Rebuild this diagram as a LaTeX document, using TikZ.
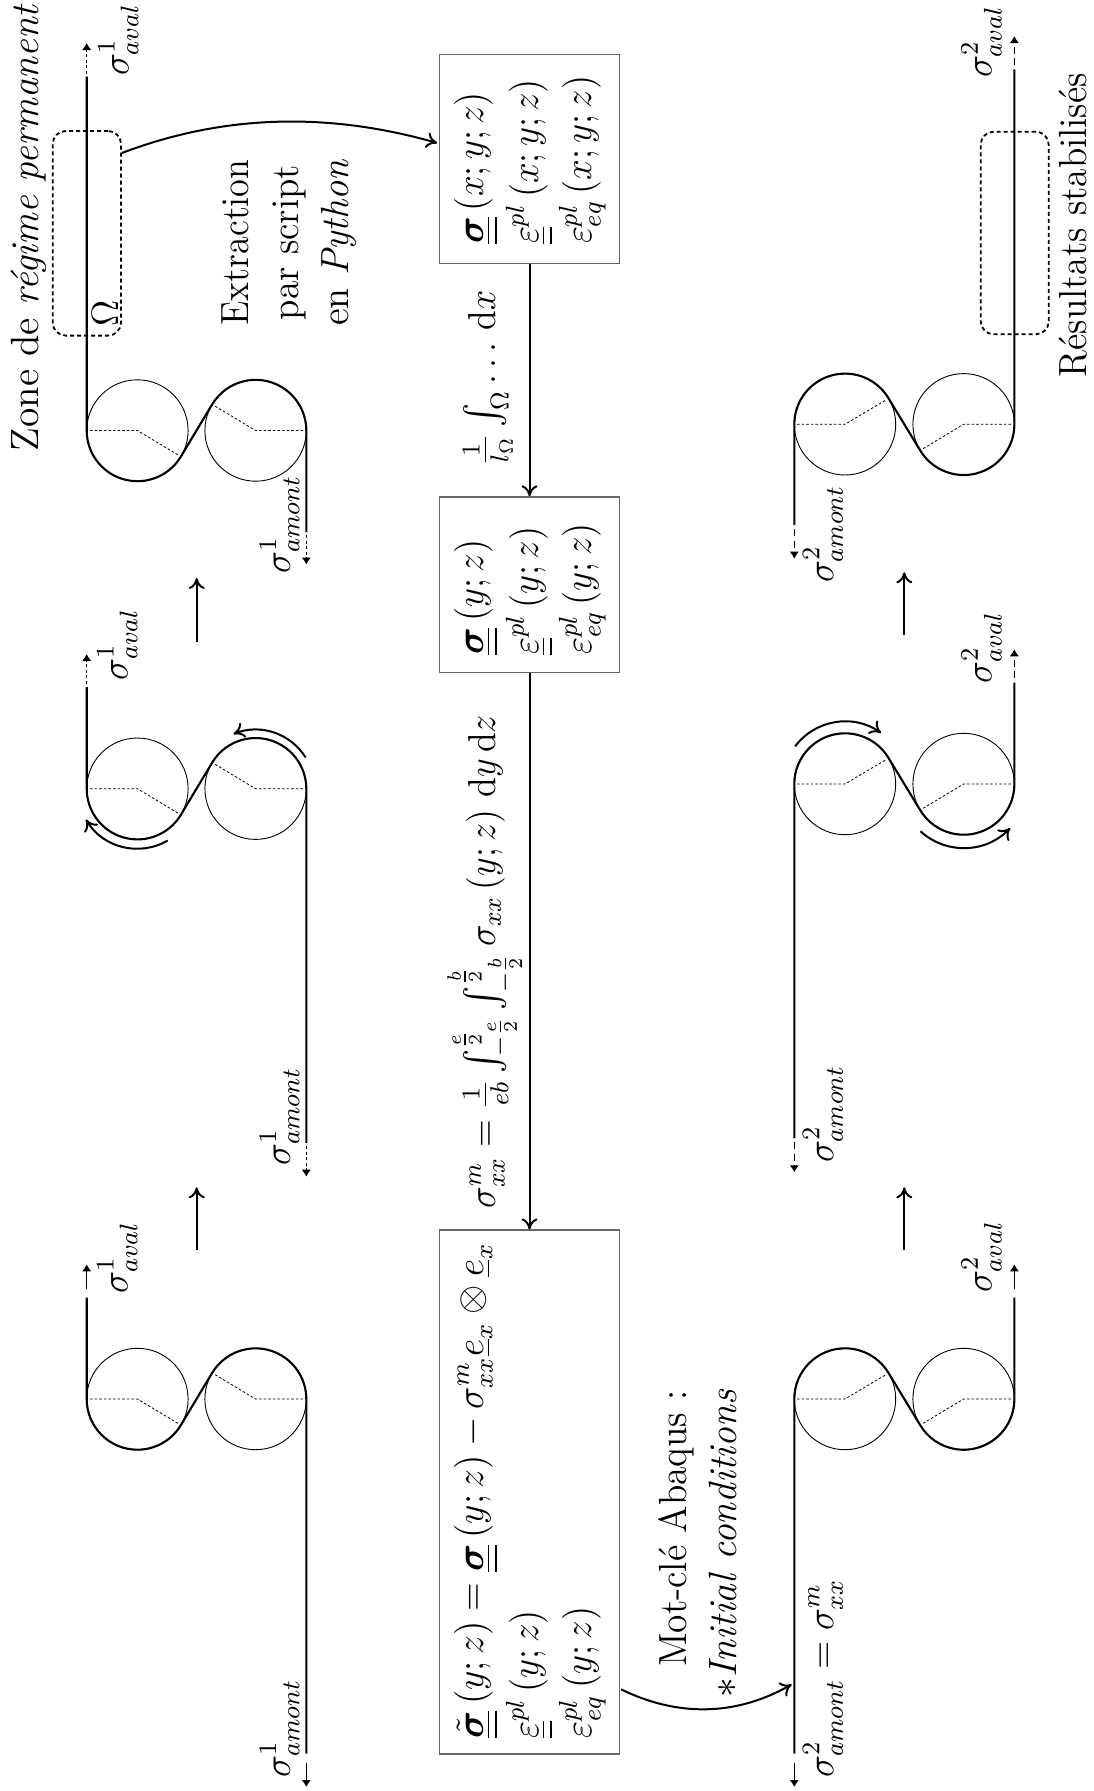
\documentclass[tikz,border=0pt,12pt]{standalone}
\usepackage{amsmath,amssymb,graphicx}
\usetikzlibrary{arrows.meta}
\tikzset{
  belt/.style={line width=2.1pt,line cap=butt,line join=round},
  roller/.style={circle,draw,line width=0.9pt,minimum size=101.4pt,inner sep=0pt},
  radial/.style={line width=0.8pt,dash pattern=on 2.6pt off 2pt},
  tailend/.style={line width=1.5pt,-{Latex[length=7pt,width=9.5pt]}},
  fine/.style={tailend,dash pattern=on 3pt off 2.6pt},
  coarse/.style={tailend,dash pattern=on 7pt off 4.5pt},
  flow/.style={line width=2pt,-{Computer Modern Rightarrow[length=11pt,width=16pt,line width=2pt]}},
  box/.style={rectangle,draw=black!60,line width=1.2pt,inner sep=0pt,fill=none},
  zonebox/.style={rectangle,draw,rounded corners=13pt,line width=1.8pt,dash pattern=on 4pt off 3pt,inner sep=0pt},
  txt/.style={rotate=90,scale=3.03,inner sep=0pt,anchor=base west},
  txtc/.style={rotate=90,scale=3.03,inner sep=0pt,anchor=base},
}
\newcommand{\dbar}[1]{\underline{\underline{#1}}}
\newcommand{\sx}[3]{\scalebox{#1}[#2]{#3}}
\newcommand{\lab}[1]{\sx{1.02}{1.05}{$#1$}}
\newcommand{\boxm}[1]{\sx{1.02}{1.07}{$#1$}}
\newcommand{\rollL}[4]{% name, y, top, bottom
  \node[roller] (#1a) at (137.4,#2) {};
  \node[roller] (#1b) at (255.6,#2) {};
  \draw[radial] (90,#2) -- (#1a.center) -- (178.5,{#2+24.7});
  \draw[radial] (303,#2) -- (#1b.center) -- (214.5,{#2-24.7});
  \draw[belt] (86.7,#3) -- (86.7,#2) arc[start angle=180,end angle=329.1,radius=50.7pt]
     -- (212.1,{#2-26}) arc[start angle=149.1,end angle=0,radius=50.7pt] -- (306.3,#4);
}
\newcommand{\rollR}[4]{% name, y, bottom, top
  \node[roller] (#1a) at (845,#2) {};
  \node[roller] (#1b) at (963.6,#2) {};
  \draw[radial] (797,#2) -- (#1a.center) -- (886.5,{#2-24.7});
  \draw[radial] (1011,#2) -- (#1b.center) -- (922.5,{#2+24.7});
  \draw[belt] (794.3,#3) -- (794.3,#2) arc[start angle=180,end angle=31.2,radius=50.7pt]
     -- (920.3,{#2+26.3}) arc[start angle=211.2,end angle=360,radius=50.7pt] -- (1014.3,#4);
}
\begin{document}
\begin{tikzpicture}[x=1pt,y=-1pt]
\useasboundingbox (0,0) rectangle (1093,1791);
% left column
\rollL{la}{430.5}{76.5}{532}
\rollL{lb}{788.7}{687}{1143}
\rollL{lc}{1399}{1297.7}{1753.7}
\draw[fine] (86.7,74) -- (86.7,43);
\draw[fine] (306.3,535) -- (306.3,564.5);
\draw[fine] (86.7,684) -- (86.7,654);
\draw[fine] (306.3,1146) -- (306.3,1176.7);
\draw[tailend] (86.7,1289) -- (86.7,1264.3);
\draw[tailend] (306.3,1762.7) -- (306.3,1787);
\node[txt] (a1) at (128.5,76.5) {\lab{\sigma^{1}_{aval}}};
\node[txt] (a2) at (127.5,681) {\lab{\sigma^{1}_{aval}}};
\node[txt] (a3) at (127.5,1294) {\lab{\sigma^{1}_{aval}}};
\node[txt] (m1) at (290,574) {\lab{\sigma^{1}_{amont}}};
\node[txt] (m2) at (290,1165.7) {\lab{\sigma^{1}_{amont}}};
\node[txt] (m3) at (290,1777.7) {\lab{\sigma^{1}_{amont}}};
% right column
\rollR{ra}{424.3}{525}{69.3}
\rollR{rb}{784}{1138.3}{682.7}
\rollR{rc}{1399}{1753.7}{1297.7}
\draw[coarse] (1014.3,65) -- (1014.3,36);
\draw[coarse] (794.3,529) -- (794.3,558.7);
\draw[coarse] (1014.3,678) -- (1014.3,649.3);
\draw[coarse] (794.3,1142) -- (794.3,1172.3);
\draw[tailend] (1014.3,1289) -- (1014.3,1264.3);
\draw[tailend] (794.3,1762.7) -- (794.3,1787);
\node[txt] (b1) at (991.7,78.3) {\lab{\sigma^{2}_{aval}}};
\node[txt] (b2) at (991.7,684) {\lab{\sigma^{2}_{aval}}};
\node[txt] (b3) at (991.7,1293.3) {\lab{\sigma^{2}_{aval}}};
\node[txt] (n1) at (833.3,583.3) {\lab{\sigma^{2}_{amont}}};
\node[txt] (n2) at (833.3,1163.3) {\lab{\sigma^{2}_{amont}}};
\node[txt] (n3) at (833.3,1777.7) {\lab{\sigma^{2}_{amont}=\sigma^{m}_{xx}}};
% process arrows between stations
\coordinate (u1s) at (196.7,642); \coordinate (u1e) at (196.7,578);
\coordinate (u2s) at (196.7,1250); \coordinate (u2e) at (196.7,1187.3);
\coordinate (u3s) at (904.3,635); \coordinate (u3e) at (904.3,572.3);
\coordinate (u4s) at (904.3,1250); \coordinate (u4e) at (904.3,1187.3);
\draw[flow] (u1s) -- (u1e);
\draw[flow] (u2s) -- (u2e);
\draw[flow] (u3s) -- (u3e);
\draw[flow] (u4s) -- (u4e);
% bending arrows
\draw[flow] (lba.center) ++(300.3:60pt) arc[start angle=300.3,end angle=210.9,radius=60pt];
\draw[flow] (lbb.center) ++(32:59pt) arc[start angle=32,end angle=112,radius=59pt];
\draw[flow] (rba.center) ++(143:62.5pt) arc[start angle=143,end angle=54.6,radius=62.5pt];
\draw[flow] (rbb.center) ++(227.6:64pt) arc[start angle=227.6,end angle=316.7,radius=64pt];
% zones
\node[zonebox,minimum width=68.3pt,minimum height=204.6pt] (omega) at (86.85,233.3) {};
\node[zonebox,minimum width=68pt,minimum height=202.6pt] (omegab) at (1014.7,233) {};
\node[txt] (omegat) at (118,327) {\lab{\Omega}};
\node[txt] (zone) at (38.3,451.6) {\sx{1.085}{1.085}{Zone de \textit{r\'egime permanent}}};
\node[txt] (res) at (1086.7,378) {\sx{1.028}{1.08}{R\'esultats stabilis\'es}};
\node[txtc] (ex1) at (248.3,242.5) {\sx{1.0}{1.08}{Extraction}};
\node[txtc] (ex2) at (298,242.5) {\sx{1.03}{1.08}{par script}};
\node[txtc] (ex3) at (348,242.5) {\sx{1.057}{1.08}{en \textit{Python}}};
% boxes
\node[box,minimum width=179.6pt,minimum height=209.3pt] (A) at (529.5,159.2) {};
\node[box,minimum width=179.6pt,minimum height=175.4pt] (B) at (529.5,584.6) {};
\node[box,minimum width=179.6pt,minimum height=524pt] (C) at (529.5,1492) {};
\node[txt] (A1) at (483,244.6) {\boxm{\dbar{\boldsymbol{\sigma}}\left(x;y;z\right)}};
\node[txt] (A2) at (538,244.6) {\boxm{\dbar{\varepsilon}^{pl}\left(x;y;z\right)}};
\node[txt] (A3) at (591,244.6) {\boxm{\varepsilon^{pl}_{eq}\left(x;y;z\right)}};
\node[txt] (B1) at (483,655.4) {\boxm{\dbar{\boldsymbol{\sigma}}\left(y;z\right)}};
\node[txt] (B2) at (538,655.4) {\boxm{\dbar{\varepsilon}^{pl}\left(y;z\right)}};
\node[txt] (B3) at (591,655.4) {\boxm{\varepsilon^{pl}_{eq}\left(y;z\right)}};
\node[txt] (C1) at (483,1739) {\sx{1.036}{1.07}{$\tilde{\dbar{\boldsymbol{\sigma}}}\left(y;z\right)=\dbar{\boldsymbol{\sigma}}\left(y;z\right)-\sigma_{xx}^{m}\underline{e}_x\otimes\underline{e}_x$}};
\node[txt] (C2) at (538,1739) {\boxm{\dbar{\varepsilon}^{pl}\left(y;z\right)}};
\node[txt] (C3) at (591,1739) {\boxm{\varepsilon^{pl}_{eq}\left(y;z\right)}};
% connectors
\draw[flow] (A) -- (B);
\draw[flow] (B) -- (C);
\node[txt] (l1) at (495,466.5) {\sx{1.0}{1.07}{$\frac{1}{l_\Omega}\int_\Omega\ldots\,\mathrm{d}x$}};
\node[txt] (l2) at (495,1208.7) {\sx{1.0}{1.07}{$\sigma_{xx}^{m}=\frac{1}{eb}\int_{-\frac{e}{2}}^{\frac{e}{2}}\int_{-\frac{b}{2}}^{\frac{b}{2}}\sigma_{xx}\left(y;z\right)\,\mathrm{d}y\,\mathrm{d}z$}};
\coordinate (omegaout) at (122,153);
\coordinate (Ain) at (437.3,143);
\draw[flow] (omegaout) .. controls (227,113) and (332,113) .. (Ain);
\coordinate (Cout) at (621,1689.3);
\coordinate (beltin) at (791.7,1684.4);
\draw[flow] (Cout) .. controls (677,1716.6) and (735,1716.6) .. (beltin);
\node[txt] (mc) at (686.7,1667.4) {\sx{1.03}{1.08}{Mot-cl\'e Abaqus :}};
\node[txt] (ic) at (736.7,1697.6) {\sx{1.086}{1.086}{$\ast$\textit{Initial conditions}}};
\end{tikzpicture}
\end{document}
